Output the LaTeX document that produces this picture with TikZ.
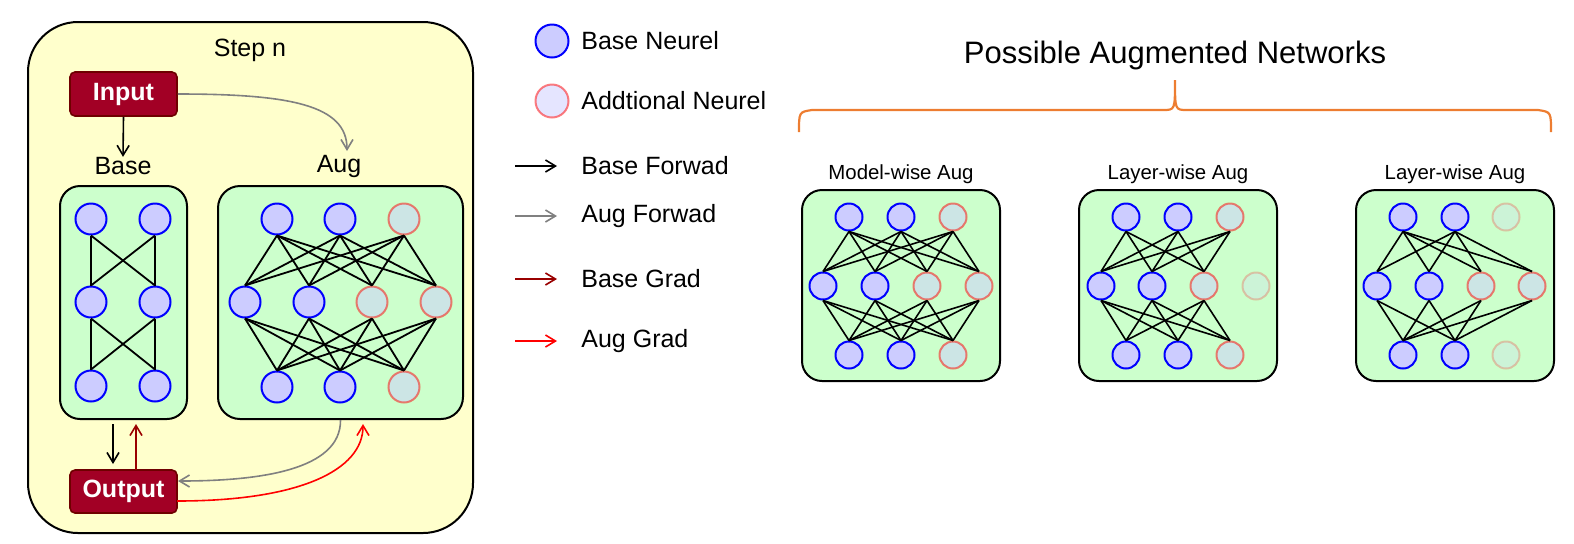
\documentclass[tikz,border=0pt]{standalone}
\usepackage{fontspec}
\setmainfont{Liberation Sans}
\usetikzlibrary{arrows.meta}
\definecolor{yel}{HTML}{FFFFCC}
\definecolor{grn}{HTML}{CCFFCC}
\definecolor{lav}{HTML}{CCCCFF}
\definecolor{crim}{HTML}{A20025}
\definecolor{crimd}{HTML}{6F0000}
\definecolor{dred}{HTML}{990000}
\definecolor{org}{HTML}{ED7D31}
\definecolor{gry}{HTML}{808080}
\begin{document}
\begin{tikzpicture}[x=0.5pt,y=-0.5pt,
  lbl/.style={font=\fontsize{12.5}{15}\selectfont, inner sep=0},
  slbl/.style={font=\fontsize{10.2}{12}\selectfont, inner sep=0},
  ttl/.style={font=\fontsize{15.5}{18}\selectfont, inner sep=0},
  bx/.style={rectangle, draw=black, line width=1pt, inner sep=0},
  outerbox/.style={bx, fill=yel, rounded corners=25pt, minimum width=222.5pt, minimum height=255.5pt},
  netbox/.style={bx, fill=grn, rounded corners=10pt, minimum height=116.5pt},
  smallbox/.style={bx, fill=grn, rounded corners=10pt, minimum width=99pt, minimum height=95.5pt},
  io/.style={rectangle, draw=crimd, fill=crim, line width=0.8pt, rounded corners=2.5pt, inner sep=0,
    minimum width=53.5pt, minimum height=22pt, text=white, font=\fontsize{12.5}{15}\selectfont\bfseries},
  neu/.style={circle, inner sep=0, line width=1pt},
  bneu/.style={neu, draw=blue, fill=lav},
  aneu/.style={neu, draw=red, draw opacity=0.5, fill=lav, fill opacity=0.5},
  fneu/.style={neu, draw=red, draw opacity=0.22, fill=lav, fill opacity=0.22},
  big/.style={minimum size=15.5pt},
  sml/.style={minimum size=13.5pt},
  link/.style={line width=0.9pt, black},
  arr/.style={-{Straight Barb[length=5pt,width=6pt]}, line width=0.8pt},
]
\useasboundingbox (0,0) rectangle (1574,543);

% ---------- left panel ----------
\node[outerbox] (outer) at (250.5,277.5) {};
\node[lbl] (stepn) at (250,50) {Step n};
\node[io] (input) at (123.5,94) {Input};
\node[io, minimum height=21.5pt] (output) at (123.5,491.5) {Output};
\node[lbl] (baselbl) at (123,166) {Base};
\node[lbl] (auglbl) at (339,166) {Aug};
\node[netbox, minimum width=63.5pt] (basebox) at (123.5,302.5) {};
\node[netbox, minimum width=122.5pt, rounded corners=11pt] (augbox) at (340.5,302.5) {};

% base network
\foreach \r/\y in {1/219,2/302,3/386}
  \foreach \c/\x in {1/91,2/155}
    \node[bneu,big] (b\r\c) at (\x,\y) {};
\foreach \r/\s in {1/2,2/3}
  \foreach \i in {1,2}
    \foreach \j in {1,2}
      \draw[link] (b\r\i.south) -- (b\s\j.north);

% aug network
\foreach \i/\x/\t in {1/277/bneu,2/340/bneu,3/404/aneu}
  \node[\t,big] (a1\i) at (\x,219) {};
\foreach \i/\x/\t in {1/245/bneu,2/309/bneu,3/372/aneu,4/436/aneu}
  \node[\t,big] (a2\i) at (\x,302) {};
\foreach \i/\x/\t in {1/277/bneu,2/340/bneu,3/404/aneu}
  \node[\t,big] (a3\i) at (\x,387) {};
\foreach \i in {1,2,3}
  \foreach \j in {1,2,3,4} {
    \draw[link] (a1\i.south) -- (a2\j.north);
    \draw[link] (a2\j.south) -- (a3\i.north);
  }

% arrows in left panel
\coordinate (augtip) at (347,151);
\draw[arr, black] (input.south) -- (baselbl.north);
\draw[arr, gry] (input.east) .. controls (290,94) and (347,105) .. (augtip);
\coordinate (bfs) at (113,424);
\coordinate (bfe) at (113,464);
\coordinate (bgs) at (136,470);
\coordinate (bge) at (136,424);
\draw[arr, black] (bfs) -- (bfe);
\draw[arr, dred] (bgs) -- (bge);
\coordinate (gout) at (178,481);
\draw[arr, gry] (augbox.south) .. controls (341,470) and (260,481) .. (gout);
\coordinate (rs) at (177,501);
\coordinate (re) at (363,424);
\draw[arr, red] (rs) .. controls (300,501) and (363,470) .. (re);

% ---------- legend ----------
\node[bneu, minimum size=16.5pt] (lgb) at (552,41) {};
\node[aneu, minimum size=16.5pt] (lga) at (552,101) {};
\node[lbl, anchor=west] (lgbt) at (581,41) {Base Neurel};
\node[lbl, anchor=west] (lgat) at (581,101) {Addtional Neurel};
\foreach \y/\c/\t/\k in {166/black/Base Forwad/1, 216/gry/Aug Forwad/2, 279/dred/Base Grad/3, 341/red/Aug Grad/4} {
  \coordinate (la\k) at (515,\y);
  \coordinate (lb\k) at (557,\y);
  \draw[arr, \c] (la\k) -- (lb\k);
  \node[lbl, anchor=west] (lt\k) at (581,\y) {\t};
}

% ---------- right panel ----------
\node[ttl] (title) at (1175,55) {Possible Augmented Networks};
\draw[org, line width=1.1pt] (799,132) .. controls (799,112) .. (812,110) -- (1163,110)
  .. controls (1175,110) .. (1175,80) .. controls (1175,110) .. (1187,110) -- (1538,110)
  .. controls (1551,112) .. (1551,132);

\foreach \n/\cx/\t in {m/901/Model-wise Aug, l/1178/Layer-wise Aug, r/1455/Layer-wise Aug} {
  \node[slbl] (\n lbl) at (\cx,174) {\t};
  \node[smallbox] (\n box) at (\cx,285.5) {};
}

% model-wise
\foreach \i/\dx/\t in {1/-52/bneu,2/0/bneu,3/52/aneu} {
  \node[\t,sml] (m1\i) at ({901+(\dx)},217) {};
  \node[\t,sml] (m3\i) at ({901+(\dx)},355) {};
}
\foreach \i/\dx/\t in {1/-78/bneu,2/-26/bneu,3/26/aneu,4/78/aneu}
  \node[\t,sml] (m2\i) at ({901+(\dx)},286) {};
\foreach \i in {1,2,3}
  \foreach \j in {1,2,3,4} {
    \draw[link, line width=0.8pt] (m1\i.south) -- (m2\j.north);
    \draw[link, line width=0.8pt] (m2\j.south) -- (m3\i.north);
  }

% layer-wise 1
\foreach \i/\dx/\t in {1/-52/bneu,2/0/bneu,3/52/aneu} {
  \node[\t,sml] (l1\i) at ({1178+(\dx)},217) {};
  \node[\t,sml] (l3\i) at ({1178+(\dx)},355) {};
}
\foreach \i/\dx/\t in {1/-77/bneu,2/-26/bneu,3/26/aneu,4/78/fneu}
  \node[\t,sml] (l2\i) at ({1178+(\dx)},286) {};
\foreach \i in {1,2,3}
  \foreach \j in {1,2,3} {
    \draw[link, line width=0.8pt] (l1\i.south) -- (l2\j.north);
    \draw[link, line width=0.8pt] (l2\j.south) -- (l3\i.north);
  }

% layer-wise 2
\foreach \i/\dx/\t in {1/-52/bneu,2/0/bneu,3/51/fneu} {
  \node[\t,sml] (r1\i) at ({1455+(\dx)},217) {};
  \node[\t,sml] (r3\i) at ({1455+(\dx)},355) {};
}
\foreach \i/\dx/\t in {1/-78/bneu,2/-26/bneu,3/26/aneu,4/77/aneu}
  \node[\t,sml] (r2\i) at ({1455+(\dx)},286) {};
\foreach \i in {1,2}
  \foreach \j in {1,2,3,4} {
    \draw[link, line width=0.8pt] (r1\i.south) -- (r2\j.north);
    \draw[link, line width=0.8pt] (r2\j.south) -- (r3\i.north);
  }
\end{tikzpicture}
\end{document}
